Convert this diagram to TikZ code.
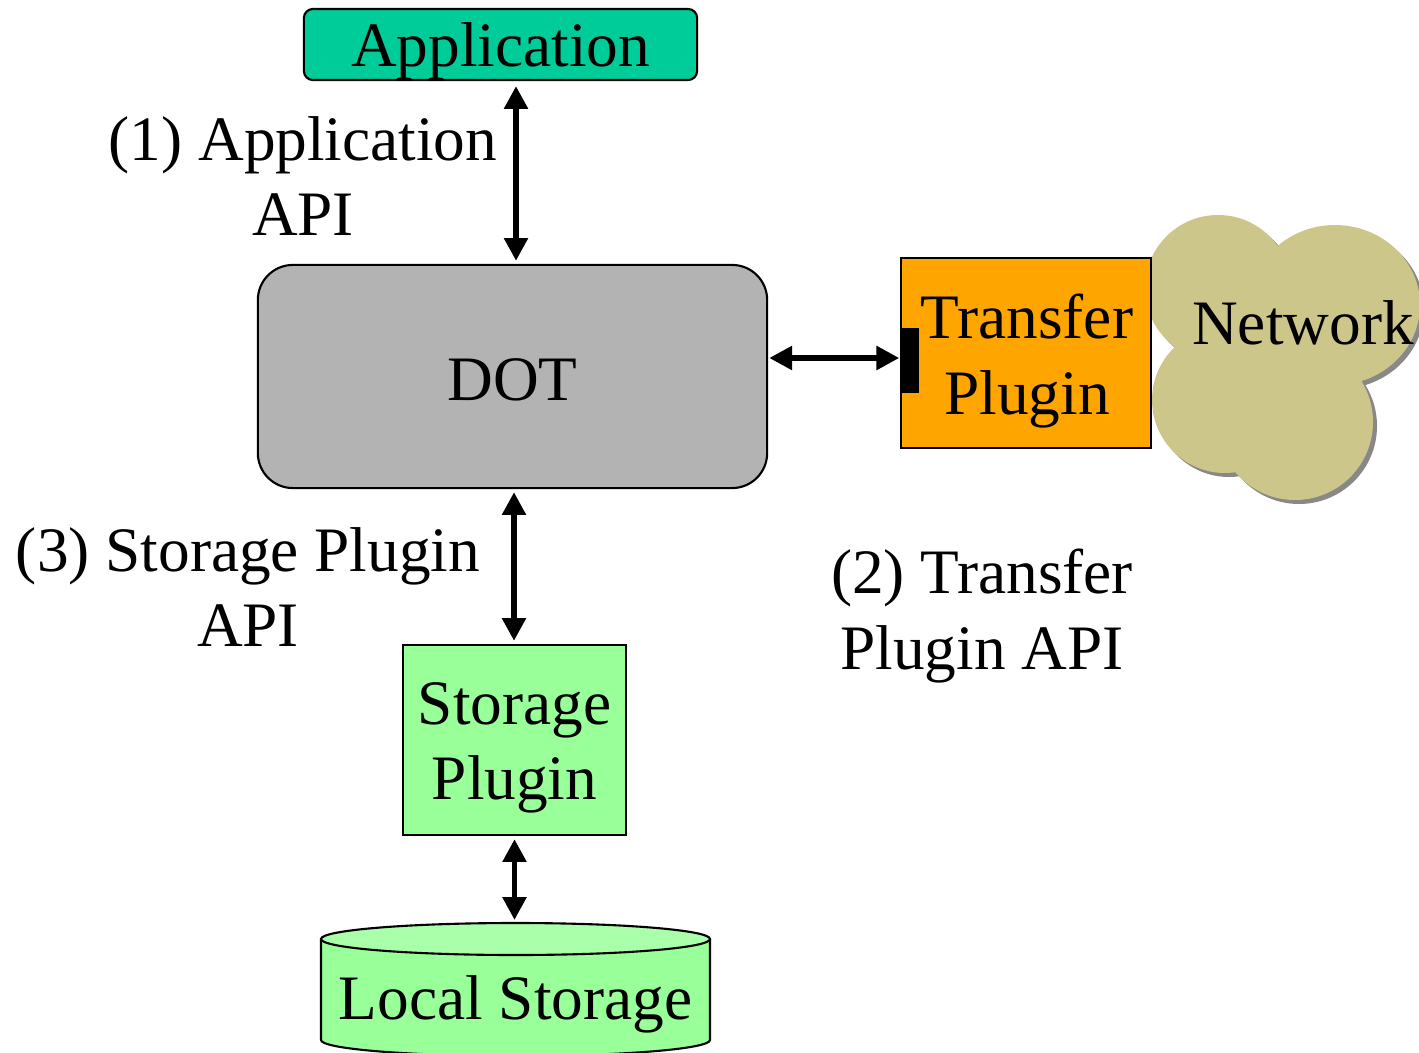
\documentclass[tikz,border=0pt]{standalone}
\usepackage{fontspec}
\setmainfont{Liberation Serif}
\usetikzlibrary{arrows.meta,calc}
\definecolor{appc}{RGB}{0,204,153}
\definecolor{dotc}{RGB}{179,179,179}
\definecolor{tpc}{RGB}{255,165,0}
\definecolor{spc}{RGB}{153,255,153}
\definecolor{sptop}{RGB}{170,255,170}
\definecolor{cloudc}{RGB}{204,198,138}
\definecolor{shadowc}{RGB}{136,136,136}
\tikzset{
  x=0.01cm, y=-0.01cm,
  every node/.style={font=\fontsize{18}{21.5}\selectfont, inner sep=0pt},
  boxstyle/.style={draw=black, line width=0.6pt},
  lbl/.style={align=center},
  conn/.style={line width=1.7pt, {Triangle[length=6.5pt,width=6.5pt]}-{Triangle[length=6.5pt,width=6.5pt]}},
}
\begin{document}
\begin{tikzpicture}
\useasboundingbox (0,0) rectangle (1419,1052);
% cloud shadow
\begin{scope}[shift={(4,4)}]
  \fill[shadowc] (1218,288) circle (73);
  \fill[shadowc] (1335,305) ellipse[x radius=85, y radius=80];
  \fill[shadowc] (1225,400) circle (73);
  \fill[shadowc] (1295,422) circle (78);
\end{scope}
\fill[cloudc] (1218,288) circle (73);
\fill[cloudc] (1335,305) ellipse[x radius=85, y radius=80];
\fill[cloudc] (1225,400) circle (73);
\fill[cloudc] (1295,422) circle (78);
\fill[cloudc] (1265,350) circle (70);
\node (net) at (1303,323) {Network};
% boxes
\node[boxstyle, fill=appc, rounded corners=0.09cm, minimum width=3.93cm, minimum height=0.71cm] (app) at (500.5,44.5) {};
\node at (500.5,51) {Application};
\node[boxstyle, fill=dotc, rounded corners=0.35cm, minimum width=5.09cm, minimum height=2.23cm] (dot) at (512.5,376.5) {};
\node at (512.5,380) {DOT};
\node[boxstyle, fill=tpc, minimum width=2.5cm, minimum height=1.9cm] (tp) at (1026,353) {};
\node[lbl] at (1027,361) {Transfer\\Plugin};
\node[fill=black, minimum width=0.18cm, minimum height=0.65cm] (bar) at (910,360.5) {};
\node[boxstyle, fill=spc, minimum width=2.23cm, minimum height=1.9cm] (sp) at (514.5,740) {};
\node[lbl] at (514.5,748) {Storage\\Plugin};
% cylinder
\coordinate (cyltop) at (514.5,923);
\fill[spc] (321,939) -- (321,1040) arc[start angle=180,end angle=360,x radius=194.5,y radius=-16] -- (710,939) -- cycle;
\draw[line width=0.6pt] (321,939) -- (321,1040) arc[start angle=180,end angle=360,x radius=194.5,y radius=-16] -- (710,939);
\draw[line width=0.6pt, fill=sptop] (515.5,939) ellipse[x radius=194.5, y radius=16];
\node (local) at (515.5,1004) {Local Storage};
% labels
\node[lbl] (l1) at (303,176) {(1) Application\\API};
\node[lbl] (l3) at (248,587) {(3) Storage Plugin\\API};
\node[lbl] (l2) at (982,616) {(2) Transfer\\Plugin API};
% connectors
\draw[conn] ($(app.south)+(15.5,5)$) -- ($(dot.north)+(3.5,-3)$);
\draw[conn] ($(dot.east |- 0,358)+(1,0)$) -- ($(bar.west |- 0,358)+(-1,0)$);
\draw[conn] ($(dot.south)+(1.5,3)$) -- ($(sp.north)+(-0.5,-3)$);
\draw[conn] ($(sp.south)+(0,3)$) -- ($(cyltop)+(0,-3)$);
\end{tikzpicture}
\end{document}
